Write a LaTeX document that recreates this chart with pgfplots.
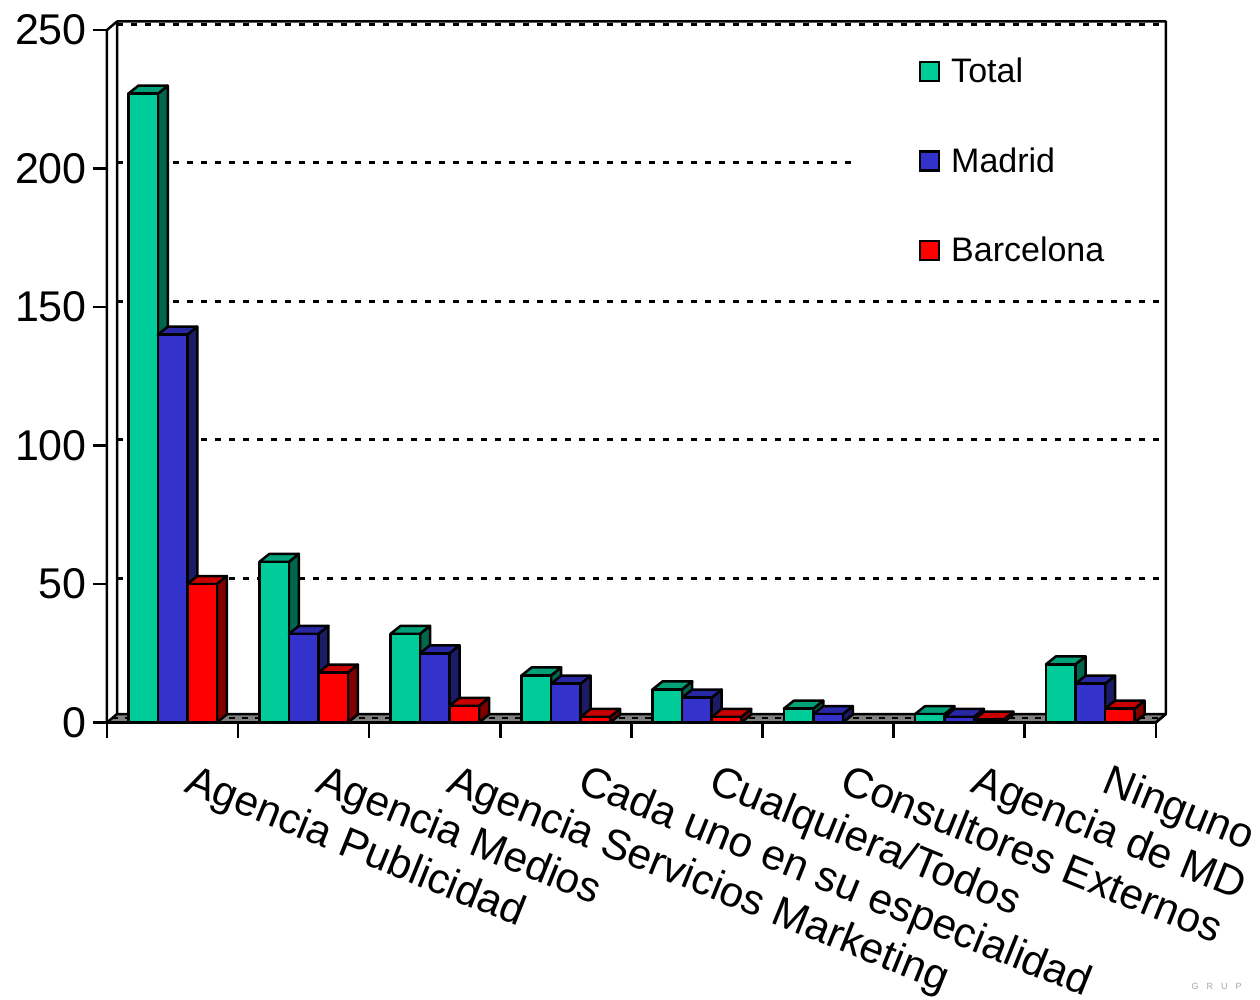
\documentclass[border=0pt]{standalone}
\usepackage{pgfplots}
\pgfplotsset{compat=1.18}
\usepackage{pgfplotstable}
\usepackage{fontspec}
\setmainfont{Liberation Sans}

\definecolor{totF}{RGB}{0,204,153}
\definecolor{totT}{RGB}{0,160,120}
\definecolor{totS}{RGB}{0,102,77}
\definecolor{madF}{RGB}{51,51,204}
\definecolor{madT}{RGB}{40,40,165}
\definecolor{madS}{RGB}{28,28,102}
\definecolor{barF}{RGB}{255,0,0}
\definecolor{barT}{RGB}{200,0,0}
\definecolor{barS}{RGB}{128,0,0}
\definecolor{floorgray}{RGB}{128,128,128}

\pgfplotstableread{
pos total madrid barcelona
0 227 140 50
1 58  32  18
2 32  25  6
3 17  14  2
4 12  9   2
5 5   3   0
6 3   2   1
7 21  14  5
}\datatable

% empty plot mark: the prism is drawn by the marker code
\pgfdeclareplotmark{prismmark}{}

% one 3D bar at the current point: #1 front, #2 top, #3 side colour
\newcommand{\prism}[3]{%
  \pgfmathsetlengthmacro{\hh}{\barval*2.77pt}%
  \ifdim\hh>0.05pt
    \filldraw[fill=#3, draw=black, line width=2.5pt, line join=round]
      (14.75pt,0pt) -- (24.75pt,8pt) -- (24.75pt,8pt-\hh) -- (14.75pt,-\hh) -- cycle;
    \filldraw[fill=#2, draw=black, line width=2.5pt, line join=round]
      (-14.75pt,0pt) -- (-4.75pt,8pt) -- (24.75pt,8pt) -- (14.75pt,0pt) -- cycle;
    \filldraw[fill=#1, draw=black, line width=2.5pt, line join=round]
      (-14.75pt,-\hh) rectangle (14.75pt,0pt);
  \fi
}

\pgfplotsset{
  prism bars/.style n args={3}{
    scatter, only marks, mark=prismmark, forget plot,
    visualization depends on={rawy \as \barval},
    scatter/@pre marker code/.code={\prism{#1}{#2}{#3}},
    scatter/@post marker code/.code={},
  },
}

\begin{document}
\begin{tikzpicture}
\useasboundingbox (0,0) rectangle (1260pt,999pt);
\begin{axis}[
  at={(107pt,276.5pt)}, anchor=south west,
  x=131.1pt, y=2.77pt,
  xmin=-0.5, xmax=7.5, ymin=0, ymax=250,
  clip=false,
  axis line style={draw=none},
  xtick={0,...,7},
  xticklabels={Agencia Publicidad, Agencia Medios, Agencia Servicios Marketing,
    Cada uno en su especialidad, Cualquiera/Todos, Consultores Externos,
    Agencia de MD, Ninguno},
  minor xtick={-0.5,0.5,...,7.5},
  ytick={0,50,...,250},
  xtick pos=left, ytick pos=left,
  tick align=outside,
  major tick length=14pt, minor tick length=15pt,
  tick style={black, line width=2.5pt},
  major x tick style={draw=none},
  /pgf/number format/assume math mode=true,
  yticklabel style={font=\fontsize{43}{43}\selectfont, anchor=east, inner sep=0pt, xshift=-6pt},
  xticklabel style={font=\fontsize{42.5}{42.5}\selectfont, inner sep=0pt,
    xshift=22pt, yshift=-26pt, rotate=-22, anchor=north west},
  legend style={at={(axis cs:5.69,240)}, anchor=north west, draw=none, fill=none,
    inner sep=0pt, row sep=63.5pt, font=\fontsize{34}{34}\selectfont,
    nodes={inner sep=0pt}},
  legend cell align=left,
]
% floor
\filldraw[fill=floorgray, draw=black, line width=2.5pt, line join=round]
  (axis cs:-0.5,0) -- (axis cs:7.5,0) -- ([shift={(10pt,8.5pt)}]axis cs:7.5,0)
  -- ([shift={(10pt,8.5pt)}]axis cs:-0.5,0) -- cycle;
\draw[black, line width=2pt, dash pattern=on 6pt off 7pt]
  ([shift={(5pt,4.25pt)}]axis cs:-0.5,0) -- ([shift={(5pt,4.25pt)}]axis cs:7.5,0);
% back wall grid
\foreach \v in {50,100,150,200,250}{
  \edef\tmp{\noexpand\draw[black, line width=3pt, dash pattern=on 6pt off 8pt]
    ([shift={(10pt,5.5pt)}]axis cs:-0.5,\v) -- ([shift={(10pt,5.5pt)}]axis cs:7.5,\v);}
  \tmp
}
% white area behind the legend
\fill[white] (axis cs:5.2,248) rectangle (axis cs:7.56,158);
% walls and front axis
\draw[black, line width=2.5pt, line join=round]
  ([shift={(10pt,8.5pt)}]axis cs:-0.5,0) -- ([shift={(10pt,8.5pt)}]axis cs:-0.5,250)
  -- ([shift={(10pt,8.5pt)}]axis cs:7.5,250) -- ([shift={(10pt,8.5pt)}]axis cs:7.5,0)
  -- (axis cs:7.5,0);
\draw[black, line width=2.5pt, line join=round]
  (axis cs:-0.5,0) -- (axis cs:-0.5,250) -- ([shift={(10pt,8.5pt)}]axis cs:-0.5,250);
\draw[black, line width=2.5pt] (axis cs:-0.5,0) -- (axis cs:7.5,0);

% bars
\addplot[prism bars={totF}{totT}{totS}] table[x expr=\thisrow{pos}-0.225, y=total]{\datatable};
\addplot[prism bars={madF}{madT}{madS}] table[x expr=\thisrow{pos}, y=madrid]{\datatable};
\addplot[prism bars={barF}{barT}{barS}] table[x expr=\thisrow{pos}+0.225, y=barcelona]{\datatable};

% legend
\addlegendimage{legend image code/.code={\filldraw[fill=totF, draw=black, line width=2.5pt] (0pt,-10pt) rectangle (19pt,9pt);}}
\addlegendentry{\hspace{11pt}Total}
\addlegendimage{legend image code/.code={\filldraw[fill=madF, draw=black, line width=2.5pt] (0pt,-10pt) rectangle (19pt,9pt);}}
\addlegendentry{\hspace{11pt}Madrid}
\addlegendimage{legend image code/.code={\filldraw[fill=barF, draw=black, line width=2.5pt] (0pt,-10pt) rectangle (19pt,9pt);}}
\addlegendentry{\hspace{11pt}Barcelona}
\end{axis}
\node[text=black!35, font=\fontsize{9}{9}\selectfont, anchor=west] at (1188pt,13pt) {G\hspace{8pt}R\hspace{8pt}U\hspace{8pt}P};
\end{tikzpicture}
\end{document}
